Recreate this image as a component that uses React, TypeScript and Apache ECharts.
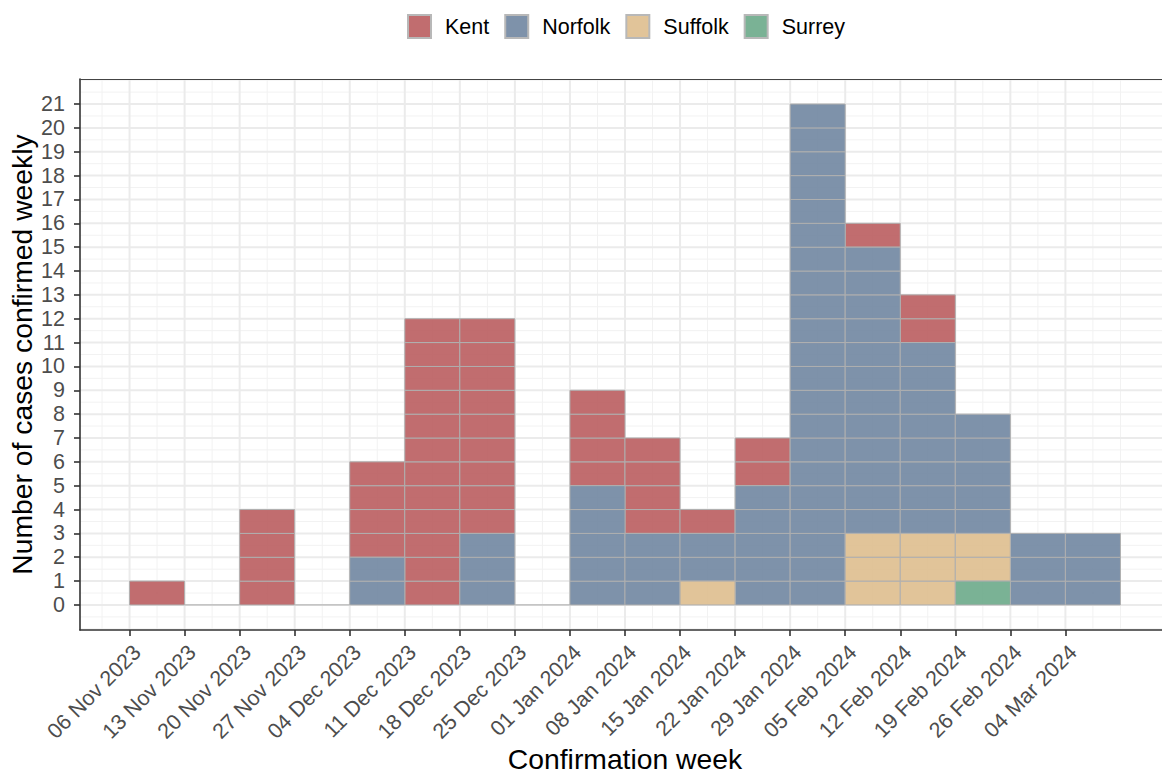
import React, { useEffect, useRef } from 'react';
import * as echarts from 'echarts';

const weekLabels = [
  '06 Nov 2023', '13 Nov 2023', '20 Nov 2023', '27 Nov 2023', '04 Dec 2023', '11 Dec 2023',
  '18 Dec 2023', '25 Dec 2023', '01 Jan 2024', '08 Jan 2024', '15 Jan 2024', '22 Jan 2024',
  '29 Jan 2024', '05 Feb 2024', '12 Feb 2024', '19 Feb 2024', '26 Feb 2024', '04 Mar 2024',
];
const counties = ['Kent', 'Norfolk', 'Suffolk', 'Surrey'];
const kent = [1, 0, 4, 0, 4, 12, 9, 0, 4, 4, 1, 2, 0, 1, 2, 0, 0, 0];
const norfolk = [0, 0, 0, 0, 2, 0, 3, 0, 5, 3, 2, 5, 21, 12, 8, 5, 3, 3];
const suffolk = [0, 0, 0, 0, 0, 0, 0, 0, 0, 0, 1, 0, 0, 3, 3, 2, 0, 0];
const surrey = [0, 0, 0, 0, 0, 0, 0, 0, 0, 0, 0, 0, 0, 0, 0, 1, 0, 0];
const yTickValues = [0, 1, 2, 3, 4, 5, 6, 7, 8, 9, 10, 11, 12, 13, 14, 15, 16, 17, 18, 19, 20, 21];

const colors: Record<string, string> = {
  Kent: 'rgba(186,93,95,0.9)',
  Norfolk: 'rgba(112,134,161,0.9)',
  Suffolk: 'rgba(222,190,142,0.9)',
  Surrey: 'rgba(108,170,138,0.9)',
};
const FONT = "'Liberation Sans', Arial, sans-serif";

export default function App() {
  const ref = useRef<HTMLDivElement>(null);
  useEffect(() => {
    if (!ref.current) return;
    const chart = echarts.init(ref.current, undefined, { renderer: 'svg' });

    const nWeeks = weekLabels.length;
    const valuesBy: Record<string, number[]> = { Kent: kent, Norfolk: norfolk, Suffolk: suffolk, Surrey: surrey };
    const stackOrder = ['Surrey', 'Suffolk', 'Norfolk', 'Kent'];
    const unitData: Record<string, number[][]> = { Kent: [], Norfolk: [], Suffolk: [], Surrey: [] };
    const zeroData: number[][] = [];
    for (let w = 0; w < nWeeks; w++) {
      let cum = 0;
      for (const c of stackOrder) {
        const n = valuesBy[c][w];
        for (let k = 0; k < n; k++) unitData[c].push([w, w + 1, cum + k, cum + k + 1]);
        cum += n;
      }
      if (cum === 0) zeroData.push([w, w + 1, 0, 0]);
    }

    const xMin = -0.9, xMax = nWeeks + 0.9;
    const yMin = -1.05, yMax = 21 * 1.05;

    const gridData: number[][] = [];
    for (let v = -1; v <= nWeeks; v += 0.5) {
      const inRange = v > xMin && v < xMax;
      if (inRange && (!Number.isInteger(v) || v < 0 || v >= nWeeks)) gridData.push([v, 0, 0]);
    }
    for (let v = -1; v <= 22; v += 0.5) {
      if (v > yMin && v < yMax && (!Number.isInteger(v) || v < 0 || v > 21)) gridData.push([v, 1, 0]);
    }
    for (let v = 0; v < nWeeks; v++) gridData.push([v, 0, 1]);
    for (const v of yTickValues) gridData.push([v, 1, 1]);

    const unitRender = (color: string) => (params: any, api: any) => {
      const p0 = api.coord([api.value(0), api.value(3)]);
      const p1 = api.coord([api.value(1), api.value(2)]);
      return {
        type: 'rect',
        shape: { x: p0[0], y: p0[1], width: p1[0] - p0[0], height: p1[1] - p0[1] },
        style: { fill: color, stroke: '#b0b0b0', lineWidth: 1 },
      };
    };

    const series: any[] = [
      {
        type: 'custom',
        name: 'grid',
        z: 1,
        silent: true,
        data: gridData,
        encode: { x: 0 },
        renderItem: (params: any, api: any) => {
          const cs = params.coordSys;
          const v = api.value(0), o = api.value(1), major = api.value(2);
          const style = { stroke: major ? '#ebebeb' : '#f2f2f2', lineWidth: major ? 2 : 1 };
          if (o === 0) {
            const x = api.coord([v, 0])[0];
            return { type: 'line', shape: { x1: x, y1: cs.y, x2: x, y2: cs.y + cs.height }, style };
          }
          const y = api.coord([0, v])[1];
          return { type: 'line', shape: { x1: cs.x, y1: y, x2: cs.x + cs.width, y2: y }, style };
        },
      },
      {
        type: 'custom',
        name: 'zero',
        z: 2,
        silent: true,
        data: zeroData,
        renderItem: (params: any, api: any) => {
          const p0 = api.coord([api.value(0), 0]);
          const p1 = api.coord([api.value(1), 0]);
          return { type: 'line', shape: { x1: p0[0], y1: p0[1], x2: p1[0], y2: p1[1] }, style: { stroke: '#b8b8b8', lineWidth: 1.2 } };
        },
      },
      ...counties.map((c) => ({
        type: 'custom',
        name: c,
        z: 3,
        data: unitData[c],
        itemStyle: { color: colors[c], borderColor: '#b8b8b8', borderWidth: 1 },
        renderItem: unitRender(colors[c]),
      })),
    ];

    chart.setOption({
      animation: false,
      backgroundColor: '#ffffff',
      textStyle: { fontFamily: FONT },
      legend: {
        data: counties,
        left: 402,
        top: 9,
        icon: 'rect',
        itemWidth: 23,
        itemHeight: 23,
        itemGap: 15,
        textStyle: { fontSize: 21.5, color: '#000', fontFamily: FONT, padding: [0, 0, 0, 9] },
      },
      grid: { left: 80, top: 79, right: -8, bottom: 148, containLabel: false, outerBoundsMode: 'none' },
      xAxis: [
        {
          type: 'value',
          min: xMin,
          max: xMax,
          z: 5,
          name: 'Confirmation week',
          nameLocation: 'middle',
          nameGap: 116,
          nameMoveOverlap: false,
          nameTextStyle: { fontSize: 28.3, lineHeight: 26, color: '#000', fontFamily: FONT },
          axisLine: { show: true, onZero: false, lineStyle: { color: '#333', width: 1.6 } },
          axisTick: { show: true, length: 6, lineStyle: { color: '#333', width: 1.6 }, customValues: weekLabels.map((_, i) => i) },
          axisLabel: {
            customValues: weekLabels.map((_, i) => i),
            formatter: (v: number) => weekLabels[Math.round(v)] ?? '',
            rotate: 45,
            margin: 11,
            verticalAlign: 'top',
            fontSize: 21.5,
            color: '#4d4d4d',
            fontFamily: FONT,
          },
          splitLine: { show: false },
        },
        {
          type: 'value',
          min: xMin,
          max: xMax,
          position: 'top',
          z: 5,
          axisLine: { show: true, onZero: false, lineStyle: { color: '#444', width: 1.2 } },
          axisTick: { show: false },
          axisLabel: { show: false },
          splitLine: { show: false },
        },
      ],
      yAxis: {
        type: 'value',
        min: yMin,
        max: yMax,
        z: 5,
        name: 'Number of cases confirmed weekly',
        nameLocation: 'middle',
        nameGap: 44,
        nameMoveOverlap: false,
        nameTextStyle: { fontSize: 28.3, color: '#000', fontFamily: FONT },
        axisLine: { show: true, onZero: false, lineStyle: { color: '#333', width: 1.6 } },
        axisTick: { show: true, length: 6, lineStyle: { color: '#333', width: 1.6 }, customValues: yTickValues },
        axisLabel: {
          customValues: yTickValues,
          formatter: (v: number) => String(Math.round(v)),
          margin: 15,
          fontSize: 21.5,
          color: '#4d4d4d',
          fontFamily: FONT,
        },
        splitLine: { show: false },
      },
      series,
    });
    return () => chart.dispose();
  }, []);
  return <div ref={ref} style={{ position: 'fixed', left: 0, top: 0, width: 1162, height: 778 }} />;
}
